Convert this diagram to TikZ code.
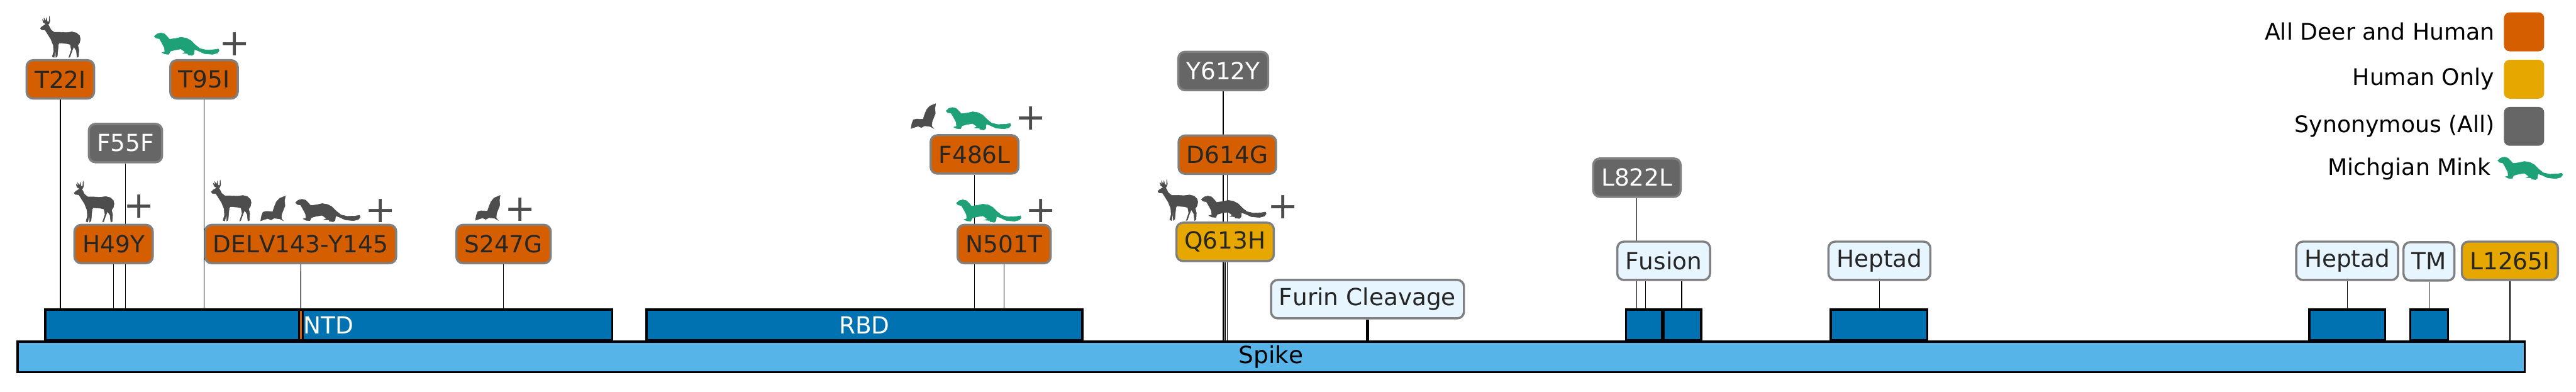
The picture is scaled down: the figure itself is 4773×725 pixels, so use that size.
\documentclass[tikz,border=0pt]{standalone}
\usepackage{fontspec}
\setmainfont[Kerning=Off]{DejaVu Sans}
\usetikzlibrary{backgrounds}
\definecolor{deerorange}{HTML}{D55E00}
\definecolor{humanyellow}{HTML}{E6A800}
\definecolor{syngray}{HTML}{666666}
\definecolor{spikeblue}{HTML}{56B4E9}
\definecolor{domainblue}{HTML}{0072B2}
\definecolor{tagblue}{HTML}{E6F5FE}
\definecolor{tagedge}{HTML}{808080}
\definecolor{tagtext}{HTML}{262626}
\definecolor{minkgreen}{HTML}{1EA177}
\definecolor{icongray}{HTML}{4D4D4D}
\tikzset{
  deer/.pic={\filldraw[pic actions,line width=.2pt,scale=1/3,shift={(-13,-3)}] (14,70) -- (24,60) -- (38,52) -- (44,46) -- (30,38) -- (26,22) -- (36,32) -- (34,14) -- (44,30) -- (48,12) -- (52,32) -- (62,36) -- (64,3) -- (67,30) -- (62,44) -- (56,50) -- (62,58) -- (72,78) -- (90,92) -- (120,92) -- (160,94) -- (190,90) -- (215,96) -- (232,112) -- (236,130) -- (232,150) -- (222,165) -- (228,190) -- (226,228) -- (218,232) -- (214,195) -- (200,172) -- (190,195) -- (178,230) -- (172,232) -- (186,190) -- (180,160) -- (160,155) -- (120,152) -- (114,160) -- (108,225) -- (100,232) -- (98,170) -- (96,200) -- (90,232) -- (80,228) -- (88,200) -- (86,165) -- (72,130) -- (50,95) -- (40,80) -- (20,78) -- cycle;},
  mink/.pic={\filldraw[pic actions,line width=.2pt,scale=1/3,shift={(-12,-33)}] (12,52) -- (28,38) -- (48,33) -- (68,38) -- (82,52) -- (96,68) -- (130,64) -- (160,57) -- (190,62) -- (215,75) -- (240,100) -- (265,120) -- (300,128) -- (345,126) -- (368,122) -- (372,132) -- (362,145) -- (335,152) -- (290,148) -- (255,132) -- (235,125) -- (232,150) -- (222,158) -- (200,155) -- (198,148) -- (170,146) -- (185,140) -- (160,122) -- (125,128) -- (100,135) -- (92,152) -- (70,150) -- (55,142) -- (70,138) -- (68,115) -- (52,85) -- (40,65) -- (22,62) -- cycle;},
  bat/.pic={\filldraw[pic actions,line width=.2pt,scale=1/3,shift={(-15,-15)}] (152,15) -- (148,40) -- (150,70) -- (142,90) -- (132,115) -- (130,140) -- (140,152) -- (122,142) -- (90,138) -- (72,148) -- (55,140) -- (38,145) -- (15,153) -- (20,125) -- (28,105) -- (45,100) -- (82,102) -- (92,72) -- (102,48) -- (120,28) -- cycle;},
  darkicon/.style={fill=icongray,draw=icongray},
  greenicon/.style={fill=minkgreen,draw=minkgreen},
  tag/.style={draw=tagedge,line width=1.15pt,rounded corners=3.5pt,inner xsep=.15cm,inner ysep=0pt,minimum height=.71cm,text=tagtext,font=\fontsize{12.4}{14}\selectfont},
  both/.style={tag,fill=deerorange},
  human/.style={tag,fill=humanyellow},
  syn/.style={tag,fill=syngray,text=white},
  region/.style={tag,fill=tagblue},
  domainbar/.style={draw=black,line width=1.15pt,fill=domainblue,inner sep=0pt,minimum height=.57cm,text=white,font=\fontsize{12.4}{14}\selectfont},
  plusmark/.style={inner sep=0pt,text=icongray,font=\fontsize{19.5}{20}\selectfont},
  swatch/.style={rounded corners=3pt,inner sep=0pt,minimum width=.745cm,minimum height=.72cm},
  legendlabel/.style={anchor=base east,inner sep=0pt,font=\fontsize{12}{14}\selectfont},
}
\begin{document}
\begin{tikzpicture}[x=.01cm,y=-.01cm]
\useasboundingbox (0,0) rectangle (4773,725);
% protein bars
\node[domainbar,minimum width=10.50cm] (ntd) at (609,602) {NTD};
\node[domainbar,minimum width=8.07cm] (rbd) at (1601.5,602) {RBD};
\node[domainbar,minimum width=.66cm] (fpa) at (3046,602) {};
\node[domainbar,minimum width=.69cm] (fpb) at (3117.5,602) {};
\node[domainbar,minimum width=1.79cm] (hra) at (3481.5,602) {};
\node[domainbar,minimum width=1.40cm] (hrb) at (4349,602) {};
\node[domainbar,minimum width=.70cm] (tmd) at (4500.75,602) {};
\node[domainbar,fill=deerorange,minimum width=.07cm] (delvbar) at (557.5,602) {};
\node[domainbar,fill=spikeblue,text=black,minimum width=46.43cm,minimum height=.56cm] (spike) at (2355.3,661) {Spike};
% labels
\node[both] (t22i) at (111.75,147) {T22I};
\node[both] (t95i) at (378,147) {T95I};
\node[syn] (f55f) at (232.5,265) {F55F};
\node[both] (h49y) at (210.5,452) {H49Y};
\node[both] (delv) at (557,452) {DELV143-Y145};
\node[both] (s247g) at (933,452) {S247G};
\node[both] (f486l) at (1805.7,286) {F486L};
\node[both] (n501t) at (1860.5,452) {N501T};
\node[syn] (y612y) at (2266.5,131.5) {Y612Y};
\node[both] (d614g) at (2274,286.5) {D614G};
\node[human] (q613h) at (2270,448) {Q613H};
\node[region] (furin) at (2533.75,554) {Furin Cleavage};
\node[syn] (l822l) at (3033,329) {L822L};
\node[region] (fusion) at (3082.5,483) {Fusion};
\node[region] (hepa) at (3482.25,483) {Heptad};
\node[region] (hepb) at (4349,483) {Heptad};
\node[region] (tm) at (4500.5,484) {TM};
\node[human] (l1265i) at (4650.5,483) {L1265I};
% stems
\begin{scope}[on background layer,line width=.7pt]
\draw (t22i) -- (t22i |- ntd.north);
\draw (t95i) -- (t95i |- ntd.north);
\draw (f55f) -- (f55f |- ntd.north);
\draw (h49y) -- (h49y |- ntd.north);
\draw (delv) -- (delvbar);
\draw (s247g) -- (s247g |- ntd.north);
\draw (f486l) -- (f486l |- rbd.north);
\draw (n501t) -- (n501t |- rbd.north);
\draw (y612y) -- (y612y |- spike.north);
\draw (d614g) -- (d614g |- spike.north);
\draw (q613h) -- (q613h |- spike.north);
\draw[line width=1.4pt] (furin) -- (furin |- spike.north);
\draw (l822l) -- (l822l |- fpa.north);
\draw ([xshift=-.335cm]fusion.south) -- ([xshift=-.335cm]fusion.south |- fpa.north);
\draw ([xshift=.335cm]fusion.south) -- ([xshift=.335cm]fusion.south |- fpb.north);
\draw (hepa) -- (hepa |- hra.north);
\draw (hepb) -- (hepb |- hrb.north);
\draw (tm) -- (tm |- tmd.north);
\draw (l1265i) -- (l1265i |- spike.north);
\end{scope}
% animals
\pic[darkicon] at (74.5,30) {deer};
\pic[greenicon] at (286,61) {mink};
\node[plusmark] (t95iplus) at (434.5,82) {+};
\pic[darkicon] at (137,335) {deer};
\node[plusmark] (h49yplus) at (258,382.5) {+};
\pic[darkicon] at (391,333) {deer};
\pic[darkicon] at (483,363) {bat};
\pic[darkicon] at (547.5,369) {mink};
\node[plusmark] (delvplus) at (705,390) {+};
\pic[darkicon] at (881,362) {bat};
\node[plusmark] (s247gplus) at (964,388) {+};
\pic[darkicon] at (1688,192) {bat};
\pic[greenicon] at (1753,199) {mink};
\node[plusmark] (f486lplus) at (1910,219.5) {+};
\pic[greenicon] at (1772,370) {mink};
\node[plusmark] (n501tplus) at (1929,390.5) {+};
\pic[darkicon] at (2145,332) {deer};
\pic[darkicon] at (2226,363) {mink};
\node[plusmark] (q613hplus) at (2377.5,383.5) {+};
% legend
\node[swatch,fill=deerorange] (keyboth) at (4676.75,59) {};
\node[swatch,fill=humanyellow] (keyhuman) at (4676.75,146.75) {};
\node[swatch,fill=syngray] (keysyn) at (4676.75,234) {};
\node[legendlabel] (textboth) at (4623,74) {All Deer and Human};
\node[legendlabel] (texthuman) at (4622,158) {Human Only};
\node[legendlabel] (textsyn) at (4623,245) {Synonymous (All)};
\node[legendlabel] (textmink) at (4616,325) {Michgian Mink};
\pic[greenicon] at (4628,291) {mink};
\end{tikzpicture}
\end{document}
